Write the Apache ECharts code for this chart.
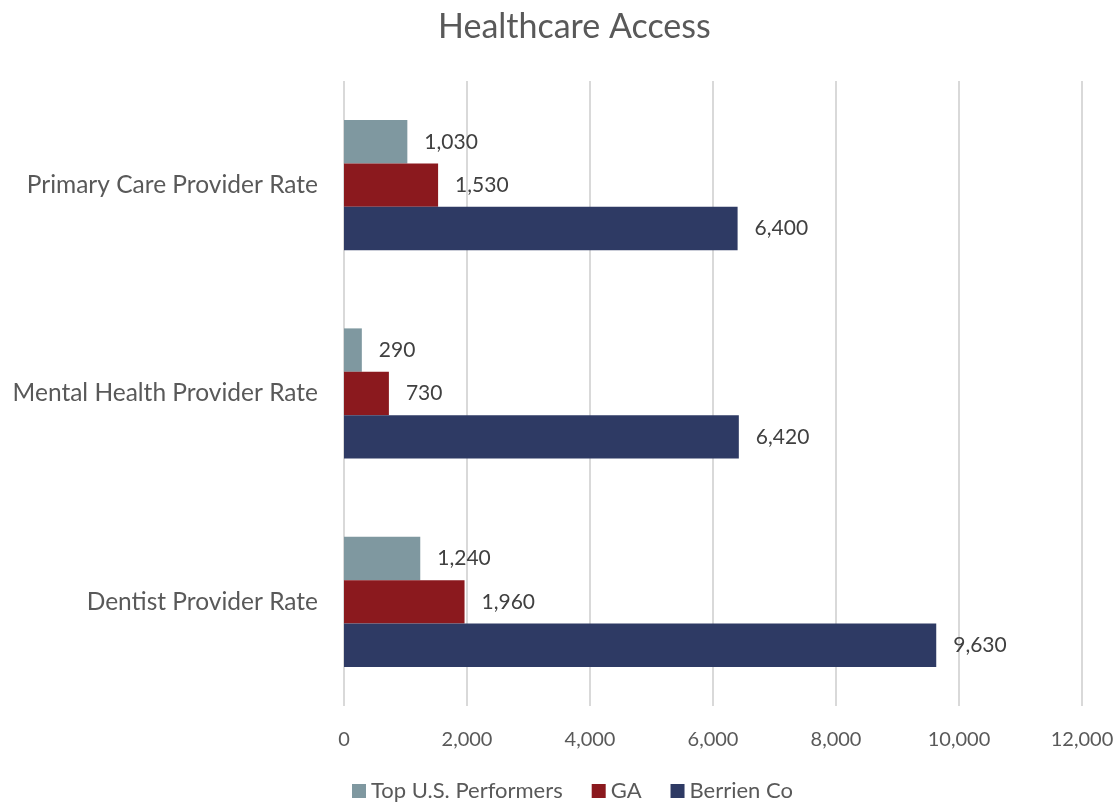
<!DOCTYPE html>
<html>
<head>
<meta charset="utf-8">
<script src="https://cdn.jsdelivr.net/npm/echarts@6/dist/echarts.min.js"></script>
<style>
  html, body { margin: 0; padding: 0; background: #fff; }
  #chart { width: 1120px; height: 803px; }
</style>
</head>
<body>
<div id="chart"></div>
<script>
// ===== data =====
const categories = ['Primary Care Provider Rate', 'Mental Health Provider Rate', 'Dentist Provider Rate'];
const topUS = [1030, 290, 1240];
const ga = [1530, 730, 1960];
const berrien = [6400, 6420, 9630];

const FONT = 'Lato';
const fmt = v => v.toLocaleString('en-US');

const chart = echarts.init(document.getElementById('chart'));

function barSeries(name, data, color) {
    return {
        name: name,
        type: 'bar',
        data: data,
        barGap: '0%',
        barCategoryGap: '37.5%',
        itemStyle: { color: color },
        label: {
            show: true,
            position: 'right',
            distance: 17,
            color: '#404040',
            fontFamily: FONT,
            fontSize: 21,
            formatter: p => fmt(p.value),
        },
    };
}

chart.setOption({
    animation: false,
    title: {
        text: 'Healthcare Access',
        left: 433,
        top: 5,
        textStyle: { color: '#595959', fontFamily: FONT, fontSize: 34, fontWeight: 'normal' },
    },
    legend: {
        top: 780,
        left: 352,
        padding: 0,
        itemWidth: 14,
        itemHeight: 14,
        itemGap: 29,
        icon: 'rect',
        textStyle: { color: '#595959', fontFamily: FONT, fontSize: 22 },
        data: ['Top U.S. Performers', 'GA', 'Berrien Co'],
    },
    grid: { left: 344, right: 38, top: 81, bottom: 97 },
    xAxis: {
        type: 'value',
        min: 0,
        max: 12000,
        interval: 2000,
        axisLine: { show: false },
        axisTick: { show: false },
        splitLine: { lineStyle: { color: '#d9d9d9', width: 2 } },
        axisLabel: { color: '#595959', fontFamily: FONT, fontSize: 20, margin: 24, formatter: fmt },
    },
    yAxis: {
        type: 'category',
        inverse: true,
        data: categories,
        axisLine: { show: false },
        axisTick: { show: false },
        axisLabel: { color: '#595959', fontFamily: FONT, fontSize: 24.5, margin: 26 },
    },
    series: [
        barSeries('Top U.S. Performers', topUS, '#7f98a0'),
        barSeries('GA', ga, '#8b191e'),
        barSeries('Berrien Co', berrien, '#2e3a64'),
    ],
});
</script>
</body>
</html>
